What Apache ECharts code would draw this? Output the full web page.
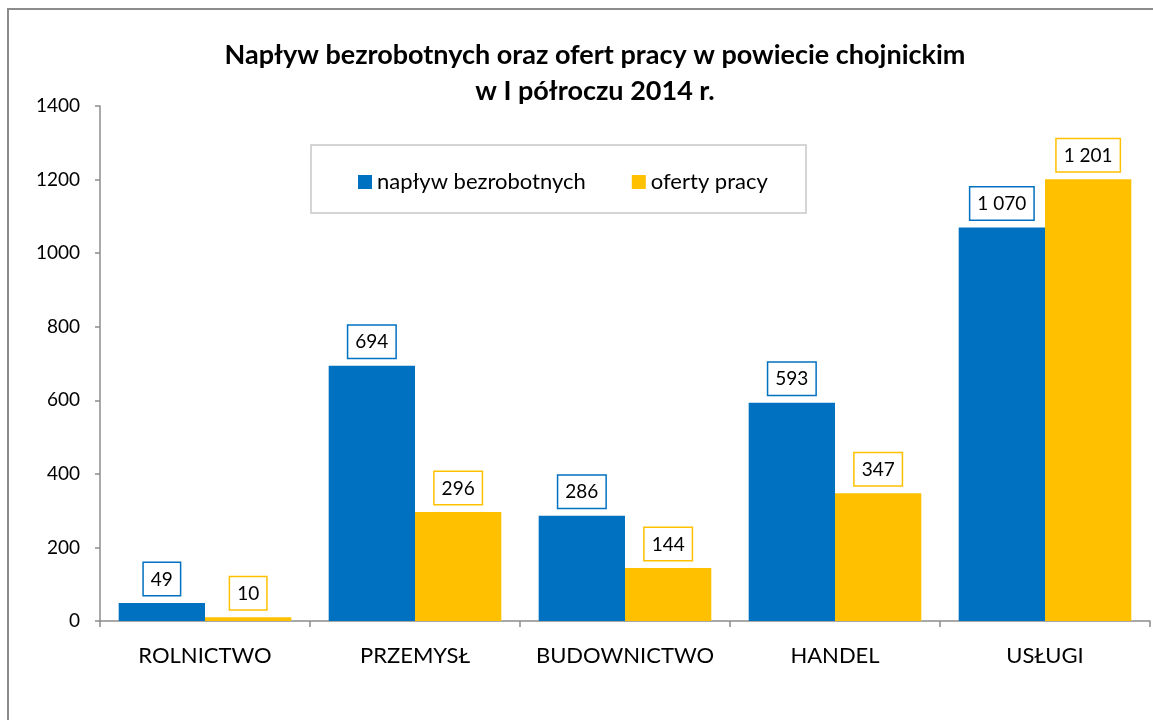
<!DOCTYPE html>
<html><head><meta charset="utf-8">
<script src="https://cdn.jsdelivr.net/npm/echarts@6/dist/echarts.min.js"></script>
<style>html,body{margin:0;padding:0;background:#fff}#c{width:1153px;height:720px}</style>
</head><body><div id="c"></div>
<script>
const categories = ['ROLNICTWO', 'PRZEMYSŁ', 'BUDOWNICTWO', 'HANDEL', 'USŁUGI'];
const inflowUnemployed = [49, 694, 286, 593, 1070];
const jobOffers = [10, 296, 144, 347, 1201];
const seriesNames = ['napływ bezrobotnych', 'oferty pracy'];
const yTicks = { min: 0, max: 1400, interval: 200 };

const FONT = 'Lato';
const BLUE = '#0070C0', YELLOW = '#FFC000';
const fmt = v => String(v).replace(/\B(?=(\d{3})+(?!\d))/g, ' ');

function labelCfg(color) {
  return {
    show: true, position: 'top', distance: 8,
    formatter: p => fmt(p.value),
    color: '#000', fontFamily: FONT, fontSize: 19,
    backgroundColor: '#fff', borderColor: color, borderWidth: 1.5,
    padding: [7, 7, 6, 7]
  };
}

const chart = echarts.init(document.getElementById('c'), null, { renderer: 'canvas' });
chart.setOption({
  backgroundColor: '#fff',
  animation: false,
  title: {
    text: 'Napływ bezrobotnych oraz ofert pracy w powiecie chojnickim\nw I półroczu 2014 r.',
    left: 590, top: 32, textAlign: 'center',
    textStyle: { fontFamily: FONT, fontWeight: 'bold', fontSize: 27, lineHeight: 36, color: '#000' }
  },
  graphic: [
    { type: 'rect', shape: { x: 8, y: 9, width: 1160, height: 730 },
      style: { fill: 'none', stroke: '#8c8c8c', lineWidth: 2 }, silent: true },
    { type: 'rect', shape: { x: 311, y: 145, width: 495, height: 68 },
      style: { fill: '#fff', stroke: '#c8c8c8', lineWidth: 1.5 }, silent: true, z: 1 }
  ],
  legend: {
    left: 353, top: 166, itemWidth: 14, itemHeight: 14, itemGap: 46,
    icon: 'rect', z: 10,
    textStyle: { fontFamily: FONT, fontSize: 22, color: '#000', lineHeight: 20 }
  },
  grid: { left: 100, right: 3, top: 106, bottom: 99, containLabel: false },
  xAxis: {
    type: 'category', data: categories,
    axisLine: { lineStyle: { color: '#8c8c8c', width: 1.5 } },
    axisTick: { show: true, interval: 0, length: 6, alignWithLabel: false, lineStyle: { color: '#8c8c8c', width: 1.5 } },
    axisLabel: { interval: 0, color: '#000', fontFamily: FONT, fontSize: 22, margin: 24 }
  },
  yAxis: {
    type: 'value', min: yTicks.min, max: yTicks.max, interval: yTicks.interval,
    splitLine: { show: false },
    axisLine: { show: true, lineStyle: { color: '#8c8c8c', width: 1.5 } },
    axisTick: { show: true, length: 5, lineStyle: { color: '#8c8c8c', width: 1.5 } },
    axisLabel: { color: '#000', fontFamily: FONT, fontSize: 19, margin: 20, formatter: v => String(v) }
  },
  series: [
    { name: seriesNames[0], type: 'bar', data: inflowUnemployed, barGap: '0%', barCategoryGap: '17.8%',
      itemStyle: { color: BLUE }, label: labelCfg(BLUE) },
    { name: seriesNames[1], type: 'bar', data: jobOffers,
      itemStyle: { color: YELLOW }, label: labelCfg(YELLOW) }
  ]
});
</script></body></html>
